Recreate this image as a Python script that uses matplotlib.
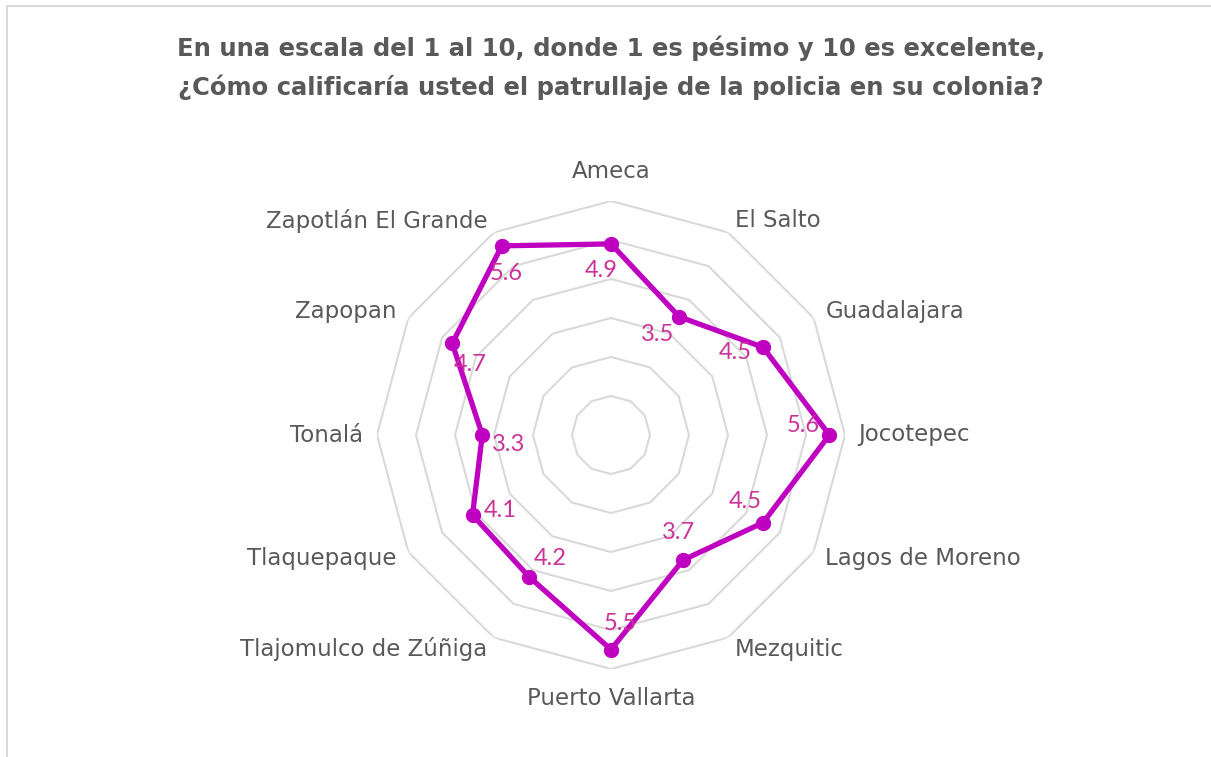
import numpy as np
import matplotlib.pyplot as plt
from matplotlib.patches import Rectangle

plt.rcParams['font.family'] = ['DejaVu Sans']

# Data
municipios = [
    "Ameca", "El Salto", "Guadalajara", "Jocotepec", "Lagos de Moreno",
    "Mezquitic", "Puerto Vallarta", "Tlajomulco de Zúñiga", "Tlaquepaque",
    "Tonalá", "Zapopan", "Zapotlán El Grande",
]
calificacion = [4.9, 3.5, 4.5, 5.6, 4.5, 3.7, 5.5, 4.2, 4.1, 3.3, 4.7, 5.6]
anillos = [1, 2, 3, 4, 5, 6]

title = ("En una escala del 1 al 10, donde 1 es pésimo y 10 es excelente,\n"
         "¿Cómo calificaría usted el patrullaje de la policia en su colonia?")

gray_text = '#595959'
grid_col = '#D9D9D9'
line_col = '#C000C0'
label_col = '#CC3399'

W, H = 1211, 757
fig = plt.figure(figsize=(W / 100, H / 100), dpi=100)

# light border of the chart area
fig.patches.append(Rectangle((7 / W, -0.05), 1.2, 1.05 - 6 / H, transform=fig.transFigure,
                             fill=False, edgecolor='#D9D9D9', lw=1.5))

cx, cy, R = 611, 435, 234
ax = fig.add_axes([(cx - R) / W, (H - cy - R) / H, 2 * R / W, 2 * R / H], projection='polar')
ax.set_theta_offset(np.pi / 2)
ax.set_theta_direction(-1)
ax.set_ylim(0, anillos[-1])
ax.grid(False)
ax.spines['polar'].set_visible(False)
ax.set_xticks([])
ax.set_yticks([])
ax.patch.set_alpha(0)

n = len(municipios)
ang = np.linspace(0, 2 * np.pi, n, endpoint=False)
ang_c = np.append(ang, ang[0])

for r in anillos:
    ax.plot(ang_c, [r] * (n + 1), color=grid_col, lw=1.5, zorder=1)

vals = calificacion + calificacion[:1]
ax.plot(ang_c, vals, color=line_col, lw=3.8, zorder=3, solid_joinstyle='miter')
ax.plot(ang, calificacion, 'o', color=line_col, ms=10, zorder=4)

# value labels: pushed towards the centre, turned a little clockwise
rot = np.deg2rad(-20)
for a, v in zip(ang, calificacion):
    ix = -np.sin(a) * 28
    iy = -np.cos(a) * 28
    dx = ix * np.cos(rot) - iy * np.sin(rot)
    dy = ix * np.sin(rot) + iy * np.cos(rot)
    ax.annotate(f"{v:.1f}", (a, v), xytext=(dx, dy), textcoords='offset pixels',
                ha='center', va='center', fontsize=17, color=label_col, zorder=5,
                family=['Lato', 'DejaVu Sans'])

# category labels
for a, name in zip(ang, municipios):
    s = np.sin(a)
    c = np.cos(a)
    if abs(s) < 1e-6:
        ha = 'center'
        va = 'bottom' if c > 0 else 'top'
        rr = 6.45
    else:
        ha = 'left' if s > 0 else 'right'
        va = 'center'
        rr = 6.35
    ax.text(a, rr, name, ha=ha, va=va, fontsize=16.5, color=gray_text)

fig.text(cx / W, 1 - 68 / H, title, ha='center', va='center', fontsize=17.5,
         fontweight='bold', color=gray_text, linespacing=1.65)

fig.savefig('out.png', dpi=100)
